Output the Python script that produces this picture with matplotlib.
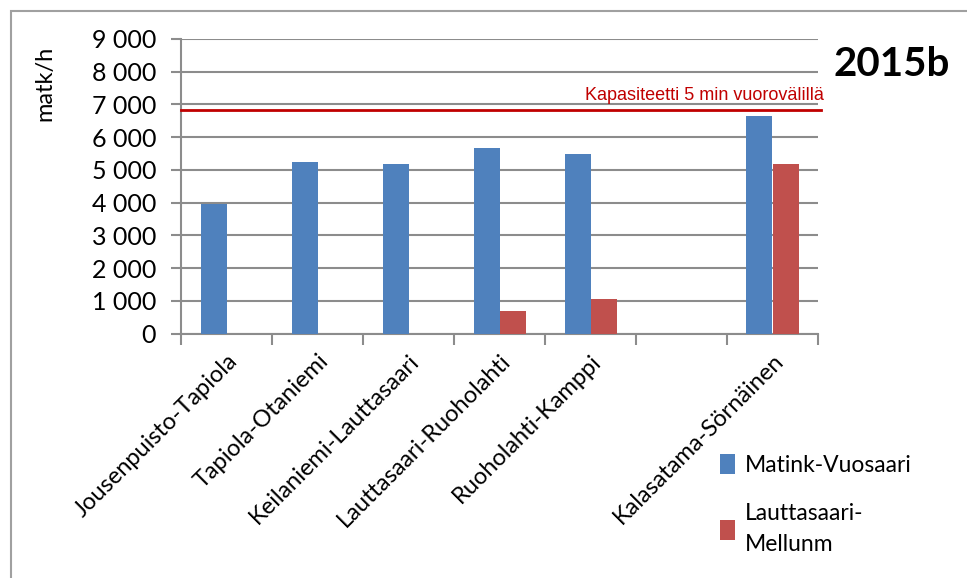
import numpy as np
import matplotlib
matplotlib.use("Agg")
import matplotlib.pyplot as plt
import matplotlib.ticker as mticker
from matplotlib.patches import Rectangle

# data
categories = ["Jousenpuisto-Tapiola", "Tapiola-Otaniemi", "Keilaniemi-Lauttasaari",
              "Lauttasaari-Ruoholahti", "Ruoholahti-Kamppi", "", "Kalasatama-Sörnäinen"]
matink_vuosaari = [3960, 5240, 5180, 5670, 5490, 0, 6650]
lauttasaari_mellunm = [0, 0, 0, 690, 1060, 0, 5180]
series_names = ["Matink-Vuosaari", "Lauttasaari-\nMellunm"]
capacity = 6820
capacity_label = "Kapasiteetti 5 min vuorovälillä"
y_ticks = [0, 1000, 2000, 3000, 4000, 5000, 6000, 7000, 8000, 9000]

BLUE = "#4F81BD"
RED = "#C0504D"
GRID = "#8c8c8c"

plt.rcParams["font.family"] = ["Lato", "DejaVu Sans"]

fig = plt.figure(figsize=(9.67, 5.78), dpi=100)
ax = fig.add_axes([181 / 967, 1 - 333.7 / 578, (818 - 181) / 967, (333.7 - 39) / 578])

# outer chart frame (runs off the right and bottom edges like the reference)
fig.patches.append(Rectangle((11 / 967, -0.1), 1.2, 1 - 11 / 578 + 0.1,
                             transform=fig.transFigure, fill=False,
                             edgecolor="#a0a0a0", linewidth=1.5, zorder=0))

x = np.arange(len(categories))
w = 1 / 3.5
ax.bar(x - w / 2, matink_vuosaari, width=w, color=BLUE, label=series_names[0], zorder=3)
ax.bar(x + w / 2, lauttasaari_mellunm, width=w, color=RED, label=series_names[1], zorder=3)

ax.axhline(capacity, color="#C00000", linewidth=2, zorder=4, xmin=0, xmax=1.004, clip_on=False)
ax.text(len(categories) - 0.5 + 0.06, capacity + 200, capacity_label, color="#C00000",
        ha="right", va="bottom", fontsize=13,
        family=["Liberation Sans", "DejaVu Sans"])

ax.set_xlim(-0.5, len(categories) - 0.5)
ax.set_ylim(0, 9000)
ax.set_yticks(y_ticks)
ax.yaxis.set_major_formatter(mticker.FuncFormatter(lambda v, _p: f"{int(v):,}".replace(",", " ")))
ax.yaxis.grid(True, color=GRID, linewidth=1.5, zorder=0)
ax.set_axisbelow(True)

ax.xaxis.set_major_locator(mticker.FixedLocator(np.arange(len(categories) + 1) - 0.5))
ax.xaxis.set_major_formatter(mticker.NullFormatter())
ax.xaxis.set_minor_locator(mticker.FixedLocator(x))
ax.xaxis.set_minor_formatter(mticker.FixedFormatter(categories))
ax.tick_params(axis="x", which="minor", length=0, labelsize=17, pad=12)
ax.tick_params(axis="x", which="major", length=8, width=1.5, color=GRID)
ax.tick_params(axis="y", length=7, width=1.5, color=GRID, labelsize=18, pad=11)
for lbl in ax.xaxis.get_minorticklabels():
    lbl.set(rotation=45, ha="right", rotation_mode="anchor")

for side in ("top", "right"):
    ax.spines[side].set_visible(False)
for side in ("left", "bottom"):
    ax.spines[side].set_color(GRID)
    ax.spines[side].set_linewidth(1.5)

ax.set_ylabel("matk/h", fontsize=17)
ax.yaxis.set_label_coords(-0.197, 0.85)

fig.text(892 / 967, 1 - 65 / 578, "2015b", fontsize=29, fontweight="bold",
         ha="center", va="center")

leg = fig.legend(loc="upper left", bbox_to_anchor=(699 / 967, 1 - 433 / 578), frameon=False,
                 fontsize=16.5, handlelength=0.65, handleheight=1.0, handletextpad=0.45,
                 labelspacing=1.2)
for t in leg.get_texts():
    t.set_linespacing(1.6)

fig.savefig("out.png", dpi=100)
